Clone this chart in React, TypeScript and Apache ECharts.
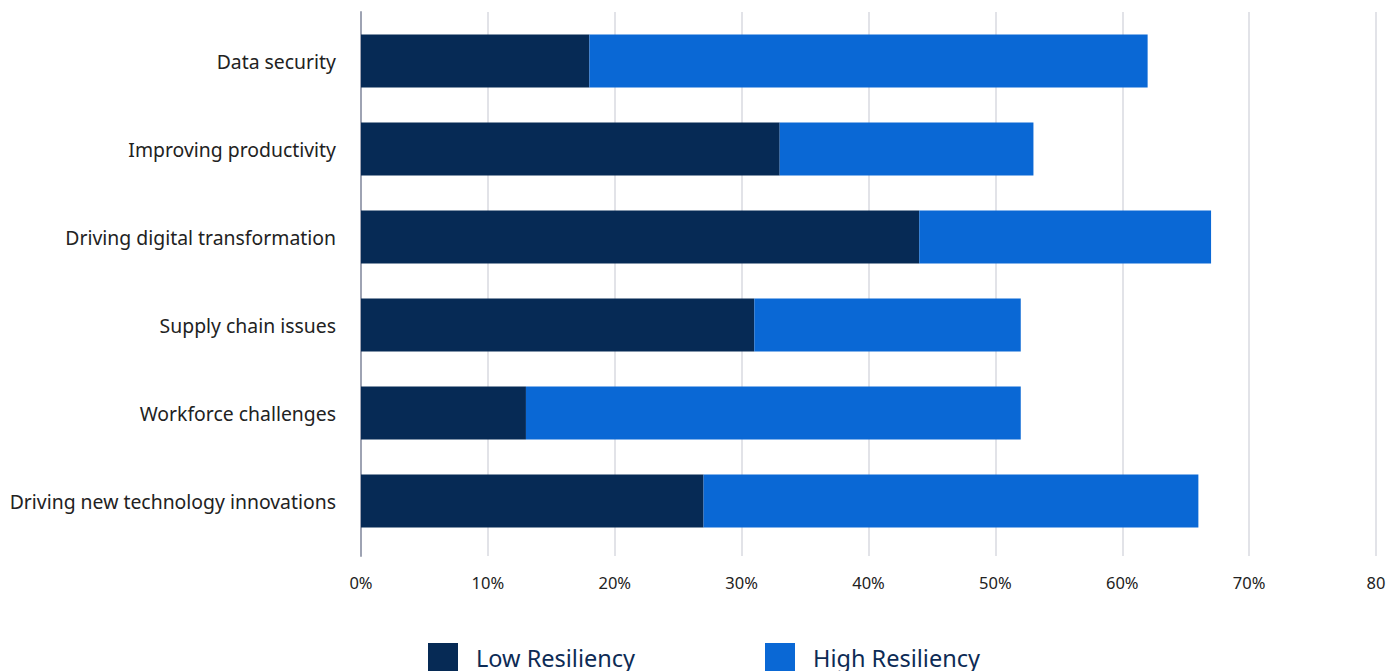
import React, { useEffect, useRef } from "react";
import * as echarts from "echarts";

const categories = [
  "Data security",
  "Improving productivity",
  "Driving digital transformation",
  "Supply chain issues",
  "Workforce challenges",
  "Driving new technology innovations",
];
const lowResiliency = [18, 33, 44, 31, 13, 27];
const highResiliency = [44, 20, 23, 21, 39, 39];
const seriesNames = ["Low Resiliency", "High Resiliency"];

export default function App() {
  const ref = useRef<HTMLDivElement>(null);
  useEffect(() => {
    if (!ref.current) return;
    const chart = echarts.init(ref.current, null, { renderer: "svg" });
    const font = "'Noto Sans', Lato, sans-serif";
    chart.setOption({
      animation: false,
      backgroundColor: "#ffffff",
      textStyle: { fontFamily: font },
      legend: {
        top: 638,
        left: 423,
        itemWidth: 30,
        itemHeight: 30,
        itemGap: 130,
        icon: "rect",
        textStyle: { fontSize: 23.5, color: "#0D2B55", fontFamily: font, padding: [0, 0, 0, 13] },
        data: seriesNames,
      },
      grid: [
        { left: 361, right: 24, top: 12, height: 544, containLabel: false },
        { left: 361, right: 24, top: 17, height: 528, containLabel: false },
      ],
      xAxis: [
        {
          gridIndex: 0,
          type: "value",
          min: 0,
          max: 80,
          interval: 10,
          axisLine: { show: false },
          axisTick: { show: false },
          splitLine: { show: true, lineStyle: { color: "#E2E3E8", width: 2 } },
          axisLabel: {
            fontSize: 16.5,
            color: "#222222",
            margin: 18,
            fontFamily: font,
            formatter: (v: number) => (v === 80 ? "80" : v + "%"),
          },
        },
        {
          gridIndex: 1,
          type: "value",
          min: 0,
          max: 80,
          show: false,
        },
      ],
      yAxis: [
        {
          gridIndex: 0,
          type: "value",
          min: 0,
          max: 1,
          axisLine: { show: true, lineStyle: { color: "#9EA3B3", width: 2 } },
          axisTick: { show: false },
          axisLabel: { show: false },
          splitLine: { show: false },
        },
        {
          gridIndex: 1,
          type: "category",
          inverse: true,
          data: categories,
          axisLine: { show: false },
          axisTick: { show: false },
          axisLabel: { fontSize: 19.4, color: "#222222", margin: 25, fontFamily: font },
        },
      ],
      series: [
        {
          name: seriesNames[0],
          type: "bar",
          stack: "total",
          xAxisIndex: 1,
          yAxisIndex: 1,
          barWidth: 53,
          itemStyle: { color: "#062A55" },
          data: lowResiliency,
        },
        {
          name: seriesNames[1],
          type: "bar",
          stack: "total",
          xAxisIndex: 1,
          yAxisIndex: 1,
          barWidth: 53,
          itemStyle: { color: "#0A68D5" },
          data: highResiliency,
        },
      ],
    });
    return () => chart.dispose();
  }, []);
  return <div ref={ref} style={{ width: 1400, height: 671, position: "absolute", left: 0, top: 0 }} />;
}
